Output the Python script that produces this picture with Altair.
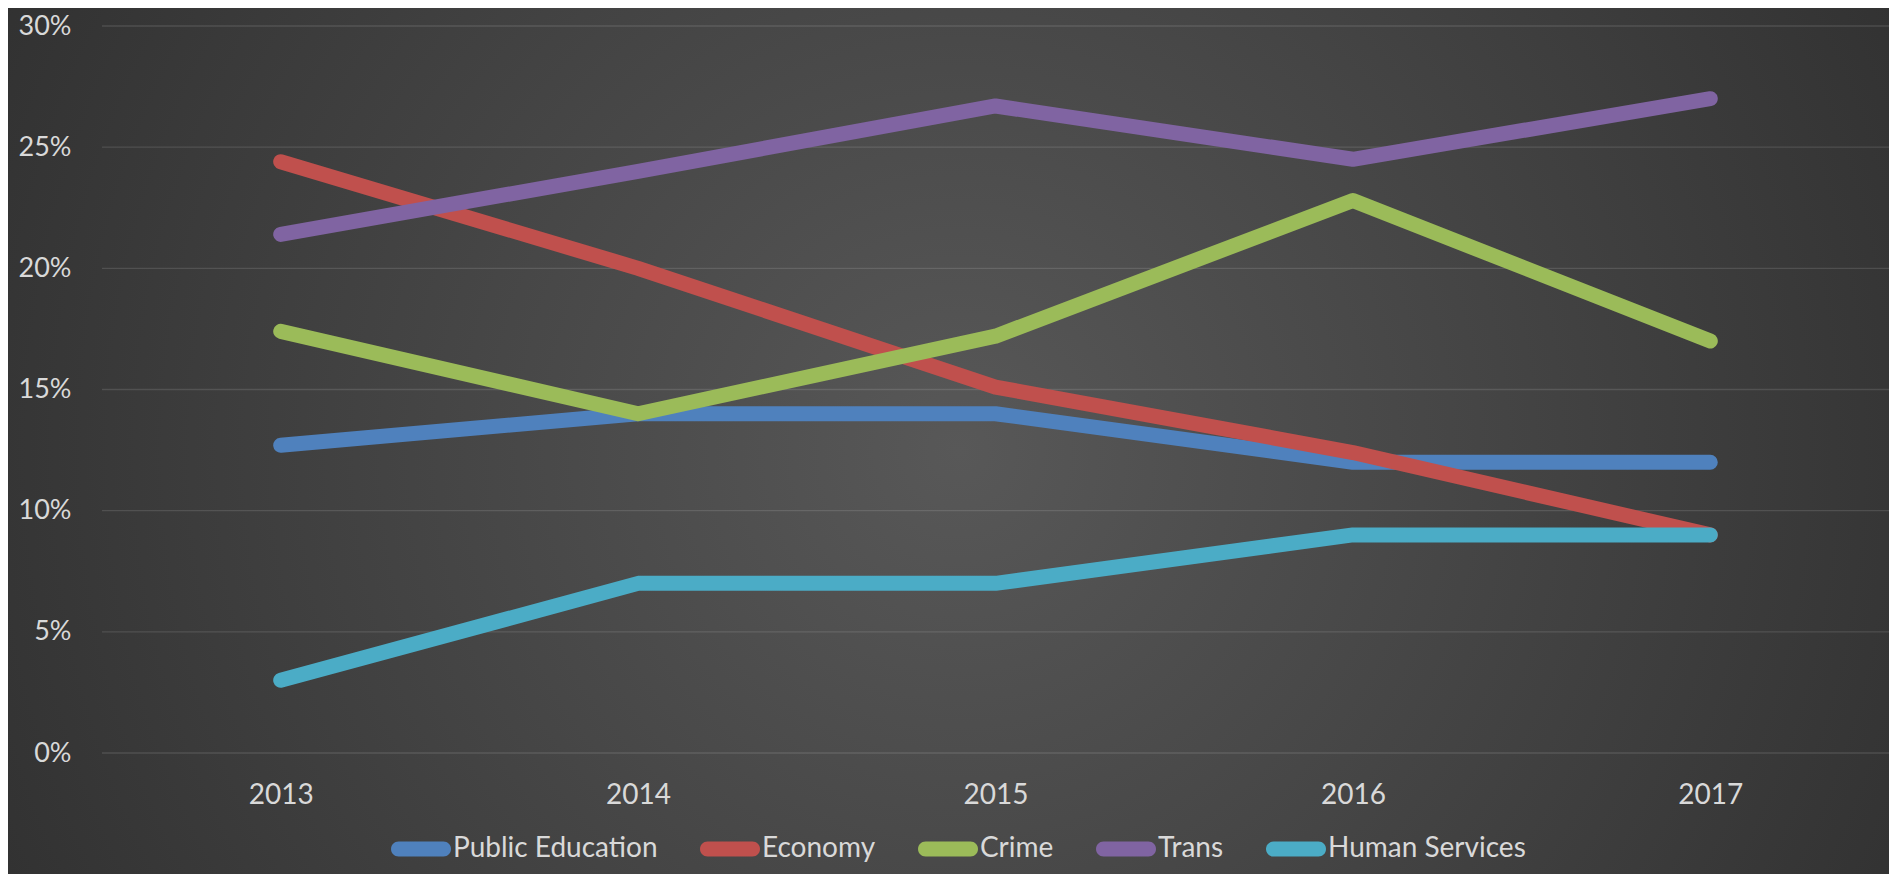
import altair as alt
import pandas as pd

years = ["2013", "2014", "2015", "2016", "2017"]
series_names = ["Public Education", "Economy", "Crime", "Trans", "Human Services"]
public_education = [0.127, 0.140, 0.140, 0.120, 0.120]
economy = [0.244, 0.200, 0.151, 0.124, 0.090]
crime = [0.174, 0.140, 0.172, 0.228, 0.170]
trans = [0.214, 0.240, 0.267, 0.245, 0.270]
human_services = [0.030, 0.070, 0.070, 0.090, 0.090]
series_colors = ["#4F81BD", "#C0504D", "#9BBB59", "#8064A2", "#4BACC6"]
y_ticks = [0, 0.05, 0.10, 0.15, 0.20, 0.25, 0.30]

values = [public_education, economy, crime, trans, human_services]
rows = []
for name, vals in zip(series_names, values):
    for yr, v in zip(years, vals):
        rows.append({"Year": yr, "Series": name, "Value": v})
df = pd.DataFrame(rows)

W, H = 1787, 727
PAD = {"left": 94, "top": 18, "right": 0, "bottom": 121}
FONT = "Lato"
LABEL_COLOR = "#d9d9d9"

PILL = "M-0.75,-0.25 H0.75 A0.25,0.25 0 0 1 0.75,0.25 H-0.75 A0.25,0.25 0 0 1 -0.75,-0.25 Z"

bg_gradient = alt.RadialGradient(
    gradient="radial",
    x1=0.5, y1=0.5, r1=0.0,
    x2=0.5, y2=0.5, r2=0.72,
    stops=[
        alt.GradientStop(offset=0, color="#585858"),
        alt.GradientStop(offset=1, color="#262626"),
    ],
)

bg = alt.Chart(pd.DataFrame({"a": [0]})).mark_rect(fill=bg_gradient).encode(
    x=alt.value(-PAD["left"]),
    x2=alt.value(W + 20),
    y=alt.value(-PAD["top"]),
    y2=alt.value(H + PAD["bottom"] + 20),
)

x_enc = alt.X(
    "Year:N",
    sort=years,
    scale=alt.Scale(type="point", padding=0.5),
    axis=alt.Axis(
        title=None, domain=False, ticks=False, grid=False, labelAngle=0,
        labelFont=FONT, labelFontSize=28, labelColor=LABEL_COLOR,
        labelPadding=28, zindex=1,
    ),
)
y_axis = alt.Axis(
    title=None, domain=False, ticks=False, grid=False, values=y_ticks,
    format=".0%", labelFont=FONT, labelFontSize=27, labelColor=LABEL_COLOR,
    labelPadding=31, zindex=1,
)
y_scale = alt.Scale(domain=[0, 0.30], nice=False)
y_enc = alt.Y("Value:Q", scale=y_scale, axis=y_axis)

grid = alt.Chart(pd.DataFrame({"Value": y_ticks})).mark_rule(
    color="#ffffff", opacity=0.12, strokeWidth=1.3
).encode(y=y_enc)

color_scale = alt.Scale(domain=series_names, range=series_colors)

lines = alt.Chart(df).mark_line(
    strokeWidth=15, strokeCap="round", strokeJoin="round"
).encode(
    x=x_enc,
    y=y_enc,
    color=alt.Color("Series:N", scale=color_scale, legend=None),
)

legend_layer = alt.Chart(df).transform_filter("false").mark_point(
    shape=PILL, filled=True, opacity=1
).encode(
    x=x_enc,
    y=y_enc,
    color=alt.Color(
        "Series:N",
        scale=color_scale,
        legend=alt.Legend(
            title=None, orient="none", direction="horizontal",
            legendX=289, legendY=793, padding=0,
            symbolType=PILL, symbolSize=3600, symbolStrokeWidth=0,
            symbolOpacity=1, labelFont=FONT, labelFontSize=28,
            labelColor=LABEL_COLOR, labelLimit=0, labelOffset=2,
            columnPadding=42, zindex=1,
        ),
    ),
)

chart = alt.layer(bg, grid, lines, legend_layer).resolve_legend(
    color="independent"
).properties(
    width=W, height=H,
    autosize=alt.AutoSizeParams(type="none"),
    padding=PAD,
    background="#2a2a2a",
).configure_view(stroke=None)

chart.save("out.html", embed_options={"renderer": "svg", "actions": False})
